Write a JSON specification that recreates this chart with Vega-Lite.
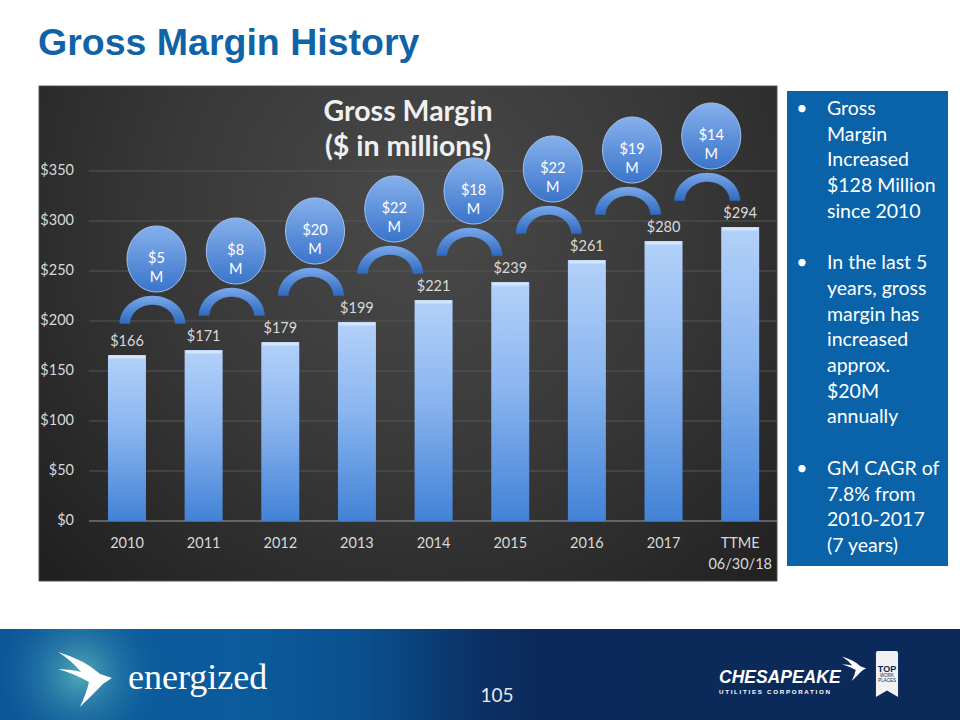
{
  "$schema": "https://vega.github.io/schema/vega-lite/v6.json",
  "background": "#ffffff",
  "padding": {"left": 0, "right": 0, "top": 25, "bottom": 0},
  "config": {"view": {"stroke": null}, "font": "Lato"},
  "title": {"text": "Gross Margin History", "anchor": "start", "frame": "group", "dx": 38, "offset": 23, "font": "Liberation Sans", "fontSize": 37.5, "fontWeight": "bold", "color": "#0f63a6"},
  "datasets": {
    "gm": [
      {"period": "2010", "value": 166},
      {"period": "2011", "value": 171, "increase": "$5 M"},
      {"period": "2012", "value": 179, "increase": "$8 M"},
      {"period": "2013", "value": 199, "increase": "$20 M"},
      {"period": "2014", "value": 221, "increase": "$22 M"},
      {"period": "2015", "value": 239, "increase": "$18 M"},
      {"period": "2016", "value": 261, "increase": "$22 M"},
      {"period": "2017", "value": 280, "increase": "$19 M"},
      {"period": "TTME 06/30/18", "value": 294, "increase": "$14 M"}
    ],
    "grid": [{"tick": 0}, {"tick": 50}, {"tick": 100}, {"tick": 150}, {"tick": 200}, {"tick": 250}, {"tick": 300}, {"tick": 350}],
    "side": [
      {"line": 0, "text": "Gross", "bullet": "•"},
      {"line": 1, "text": "Margin"},
      {"line": 2, "text": "Increased"},
      {"line": 3, "text": "$128 Million"},
      {"line": 4, "text": "since 2010"},
      {"line": 6, "text": "In the last 5", "bullet": "•"},
      {"line": 7, "text": "years, gross"},
      {"line": 8, "text": "margin has"},
      {"line": 9, "text": "increased"},
      {"line": 10, "text": "approx."},
      {"line": 11, "text": "$20M"},
      {"line": 12, "text": "annually"},
      {"line": 14, "text": "GM CAGR of", "bullet": "•"},
      {"line": 15, "text": "7.8% from"},
      {"line": 16, "text": "2010-2017"},
      {"line": 17, "text": "(7 years)"}
    ]
  },
  "spacing": 47,
  "vconcat": [
    {
      "spacing": 9,
      "hconcat": [
        {"width": 29, "height": 495, "data": {"values": []}, "mark": "point"},
        {
          "width": 738,
          "height": 495,
          "title": {"text": ["Gross Margin", "($ in millions)"], "anchor": "middle", "frame": "group", "offset": -76, "baseline": "top", "font": "Lato", "fontSize": 28.5, "fontWeight": "bold", "color": "#f0f0f0", "lineHeight": 35},
          "data": {"name": "gm"},
          "resolve": {"scale": {"x": "independent"}},
          "layer": [
            {
              "layer": [
                {
                  "data": {"values": [{}]},
                  "mark": {"type": "rect", "stroke": "#505050", "strokeWidth": 1, "fill": {"gradient": "radial", "x1": 0.52, "y1": 0.34, "r1": 0, "x2": 0.52, "y2": 0.34, "r2": 0.7, "stops": [{"offset": 0, "color": "#4a4a4a"}, {"offset": 0.5, "color": "#383838"}, {"offset": 1, "color": "#202020"}]}},
                  "encoding": {"x": {"value": 0}, "x2": {"value": "width"}, "y": {"value": 0}, "y2": {"value": "height"}}
                },
                {
                  "data": {"name": "grid"},
                  "mark": {"type": "rule", "xOffset": -38, "strokeWidth": 1},
                  "encoding": {
                    "x": {"datum": "2010", "type": "nominal", "scale": {"type": "point", "domain": ["2010", "2011", "2012", "2013", "2014", "2015", "2016", "2017", "TTME 06/30/18"], "padding": 0.814, "align": 0.705}, "axis": null},
                    "x2": {"value": "width"},
                    "y": {"field": "tick", "type": "quantitative", "scale": {"domain": [-60, 435], "nice": false, "zero": false}, "axis": null},
                    "color": {"condition": {"test": "datum.tick === 0", "value": "#9c9c9c"}, "value": "#565656"}
                  }
                },
                {
                  "data": {"name": "grid"},
                  "mark": {"type": "text", "align": "right", "baseline": "middle", "xOffset": -53, "fontSize": 14.5, "color": "#d9d9d9"},
                  "encoding": {
                    "x": {"datum": "2010", "type": "nominal", "axis": null},
                    "y": {"field": "tick", "type": "quantitative", "axis": null},
                    "text": {"field": "tick", "type": "quantitative", "format": "$d"}
                  }
                },
                {
                  "mark": {"type": "bar", "width": 38, "fill": {"gradient": "linear", "x1": 0, "y1": 0, "x2": 0, "y2": 1, "stops": [{"offset": 0, "color": "#b3d1f9"}, {"offset": 0.45, "color": "#8ab5ef"}, {"offset": 1, "color": "#4282d6"}]}},
                  "encoding": {
                    "x": {"field": "period", "type": "nominal", "scale": {"type": "point", "domain": ["2010", "2011", "2012", "2013", "2014", "2015", "2016", "2017", "TTME 06/30/18"], "padding": 0.814, "align": 0.705}, "axis": null},
                    "y": {"field": "value", "type": "quantitative", "scale": {"domain": [-60, 435], "nice": false, "zero": false}, "axis": null}
                  }
                },
                {
                  "mark": {"type": "tick", "orient": "horizontal", "size": 36, "thickness": 3, "color": "#dcebfd", "opacity": 0.8, "yOffset": 2},
                  "encoding": {
                    "x": {"field": "period", "type": "nominal", "axis": null},
                    "y": {"field": "value", "type": "quantitative", "axis": null}
                  }
                },
                {
                  "mark": {"type": "text", "baseline": "alphabetic", "dy": -9, "fontSize": 14.5, "color": "#d9d9d9"},
                  "encoding": {
                    "x": {"field": "period", "type": "nominal", "axis": null},
                    "y": {"field": "value", "type": "quantitative", "axis": null},
                    "text": {"field": "value", "type": "quantitative", "format": "$d"}
                  }
                },
                {
                  "mark": {"type": "text", "baseline": "top", "dy": 16, "lineBreak": " ", "lineHeight": 20.5, "fontSize": 14.5, "color": "#d9d9d9"},
                  "encoding": {
                    "x": {"field": "period", "type": "nominal", "axis": null},
                    "y": {"datum": 0, "type": "quantitative", "axis": null},
                    "text": {"field": "period"}
                  }
                }
              ]
            },
            {
              "transform": [{"filter": "isValid(datum.increase)"}],
              "encoding": {
                "x": {"field": "period", "type": "nominal", "scale": {"type": "point", "domain": ["2010", "2011", "2012", "2013", "2014", "2015", "2016", "2017", "TTME 06/30/18"], "padding": 0.656, "align": 0.368}, "axis": null},
                "y": {"field": "value", "type": "quantitative", "axis": null}
              },
              "layer": [
                {
                  "mark": {"type": "point", "shape": "M -1 0.42 A 1 0.85 0 0 1 1 0.42 L 0.68 0.42 A 0.68 0.58 0 0 0 -0.68 0.42 Z", "size": 4356, "filled": true, "opacity": 1, "strokeWidth": 0, "xOffset": -4, "yOffset": -40,
                    "fill": {"gradient": "linear", "x1": 0, "y1": 0, "x2": 0, "y2": 1, "stops": [{"offset": 0, "color": "#7aa8ea"}, {"offset": 1, "color": "#2f69c0"}]}}
                },
                {
                  "mark": {"type": "point", "shape": "M -0.894 0 A 0.894 1 0 1 1 0.894 0 A 0.894 1 0 1 1 -0.894 0 Z", "size": 4356, "filled": true, "opacity": 1, "stroke": "#a3c3ef", "strokeWidth": 1, "yOffset": -91,
                    "fill": {"gradient": "linear", "x1": 0, "y1": 0, "x2": 0, "y2": 1, "stops": [{"offset": 0, "color": "#86b0ec"}, {"offset": 1, "color": "#3a74ca"}]}}
                },
                {
                  "mark": {"type": "text", "baseline": "middle", "lineBreak": " ", "lineHeight": 18.5, "dy": -91, "fontSize": 14.5, "color": "#ffffff"},
                  "encoding": {"text": {"field": "increase"}}
                }
              ]
            }
          ]
        },
        {
          "width": 161,
          "height": 495,
          "data": {"name": "side"},
          "encoding": {"y": {"field": "line", "type": "quantitative", "scale": {"domain": [-0.895, 18.36], "reverse": true, "nice": false, "zero": false}, "axis": null}},
          "layer": [
            {
              "data": {"values": [{}]},
              "mark": {"type": "rect", "color": "#0a63a8", "opacity": 1},
              "encoding": {"x": {"value": 0}, "x2": {"value": "width"}, "y": {"value": 5}, "y2": {"value": 480}}
            },
            {"mark": {"type": "text", "align": "left", "baseline": "middle", "x": 40, "fontSize": 19.5, "color": "#ffffff"}, "encoding": {"text": {"field": "text"}}},
            {"transform": [{"filter": "isValid(datum.bullet)"}], "mark": {"type": "text", "align": "center", "baseline": "middle", "x": 15, "fontSize": 19.5, "color": "#ffffff"}, "encoding": {"text": {"field": "bullet"}}}
          ]
        }
      ]
    },
    {
      "width": 960,
      "height": 93,
      "data": {"values": [{}]},
      "layer": [
        {
          "mark": {"type": "rect", "fill": {"gradient": "linear", "x1": 0, "y1": 0, "x2": 1, "y2": 0, "stops": [{"offset": 0, "color": "#0c5698"}, {"offset": 0.25, "color": "#0b5c9d"}, {"offset": 0.38, "color": "#0a4f8e"}, {"offset": 0.5, "color": "#0b3064"}, {"offset": 0.56, "color": "#0b2a5b"}, {"offset": 1, "color": "#0b2a5a"}]}},
          "encoding": {"x": {"value": 0}, "x2": {"value": "width"}, "y": {"value": 0}, "y2": {"value": "height"}}
        },
        {
          "mark": {"type": "point", "shape": "circle", "size": 31416, "filled": true, "opacity": 1, "clip": true, "x": 80, "y": 45,
            "fill": {"gradient": "radial", "x1": 0.5, "y1": 0.5, "r1": 0, "x2": 0.5, "y2": 0.5, "r2": 0.5, "stops": [{"offset": 0, "color": "rgba(95,185,190,0.85)"}, {"offset": 1, "color": "rgba(12,92,157,0)"}]}}
        },
        {
          "mark": {"type": "point", "shape": "M -0.96 -1 Q 0 -0.71 0.54 -0.21 L 0.96 -0.07 L 0.64 0.14 Q 0.29 0.5 -0.18 0.96 Q 0.07 0.43 0.14 0.07 Q -0.36 -0.21 -0.96 -0.39 Q -0.43 -0.36 -0.14 -0.29 Q -0.5 -0.71 -0.96 -1 Z", "size": 3136, "filled": true, "opacity": 1, "color": "#ffffff", "x": 85, "y": 51}
        },
        {"mark": {"type": "text", "text": "energized", "align": "left", "baseline": "alphabetic", "x": 128, "y": 60, "font": "Liberation Serif", "fontSize": 36, "color": "#ffffff"}},
        {"mark": {"type": "text", "text": "105", "align": "center", "baseline": "middle", "x": 497, "y": 67, "font": "Lato", "fontSize": 19, "color": "#e8e8e8"}},
        {"mark": {"type": "text", "text": "CHESAPEAKE", "align": "left", "baseline": "middle", "x": 719, "y": 49, "font": "Liberation Sans", "fontSize": 17.5, "fontWeight": "bold", "fontStyle": "italic", "color": "#ffffff"}},
        {"mark": {"type": "text", "text": "U T I L I T I E S \u00a0 C O R P O R A T I O N", "align": "left", "baseline": "middle", "x": 719, "y": 62.5, "font": "Liberation Sans", "fontSize": 6.2, "fontWeight": "bold", "color": "#ffffff"}},
        {
          "mark": {"type": "point", "shape": "M -0.96 -1 Q 0 -0.71 0.54 -0.21 L 0.96 -0.07 L 0.64 0.14 Q 0.29 0.5 -0.18 0.96 Q 0.07 0.43 0.14 0.07 Q -0.36 -0.21 -0.96 -0.39 Q -0.43 -0.36 -0.14 -0.29 Q -0.5 -0.71 -0.96 -1 Z", "size": 625, "filled": true, "opacity": 1, "color": "#ffffff", "x": 854, "y": 40}
        },
        {
          "mark": {"type": "point", "shape": "M -0.48 -0.92 Q -0.48 -1 -0.4 -1 L 0.4 -1 Q 0.48 -1 0.48 -0.92 L 0.48 1 L 0 0.72 L -0.48 1 Z", "size": 2116, "filled": true, "opacity": 1, "color": "#f2f2f2", "x": 887, "y": 45}
        },
        {"mark": {"type": "text", "text": "TOP", "align": "center", "baseline": "middle", "x": 887, "y": 40, "font": "Liberation Sans", "fontSize": 9, "fontWeight": "bold", "color": "#0b2a5a"}},
        {"mark": {"type": "text", "text": "WORK", "align": "center", "baseline": "middle", "x": 887, "y": 47, "font": "Liberation Sans", "fontSize": 4.5, "color": "#0b2a5a"}},
        {"mark": {"type": "text", "text": "PLACES", "align": "center", "baseline": "middle", "x": 887, "y": 52, "font": "Liberation Sans", "fontSize": 4.5, "color": "#0b2a5a"}}
      ]
    }
  ]
}
